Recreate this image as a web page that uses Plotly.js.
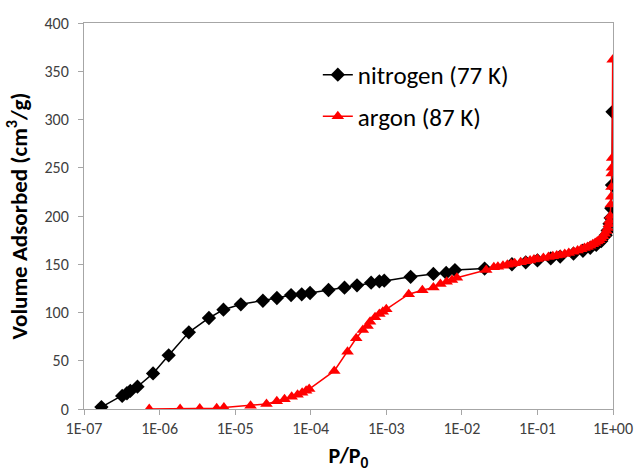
<!DOCTYPE html>
<html><head><meta charset="utf-8">
<script src="https://cdn.plot.ly/plotly-3.0.1.min.js"></script>
<style>html,body{margin:0;padding:0;background:#fff}#chart{width:636px;height:474px}</style>
</head><body><div id="chart"></div>
<script>
const n2P = [1.7e-7, 3.2e-7, 3.7e-7, 4.1e-7, 5.1e-7, 8.2e-7, 1.32e-6, 2.44e-6, 4.5e-6, 7.0e-6, 1.19e-5, 2.33e-5, 3.57e-5, 5.5e-5, 7.6e-5, 9.8e-5, 1.72e-4, 2.8e-4, 4.1e-4, 6.3e-4, 8.1e-4, 9.4e-4, 2.1e-3, 4.2e-3, 6.2e-3, 8.1e-3, 0.02, 0.046, 0.07, 0.1, 0.15, 0.2, 0.3, 0.4, 0.5, 0.6, 0.7, 0.8, 0.85, 0.9, 0.93, 0.95, 0.97, 0.985];
const n2V = [2, 13.5, 16.3, 18.7, 23.1, 36.9, 55.6, 79.5, 94.3, 102.9, 108.5, 112.2, 115, 118.1, 118.8, 120.2, 123.3, 125.7, 128.2, 130.9, 132.3, 133, 137, 140, 141, 144, 145.5, 150, 152, 154, 156, 158, 161, 164, 167, 170, 174, 180, 185, 192, 198, 208, 232, 308];
const arP = [7.3e-7, 1.87e-6, 3.4e-6, 5.7e-6, 7.1e-6, 1.6e-5, 2.6e-5, 3.56e-5, 4.5e-5, 5.6e-5, 6.7e-5, 7.7e-5, 8.7e-5, 9.55e-5, 2.05e-4, 3.07e-4, 4.0e-4, 4.9e-4, 5.65e-4, 6.1e-4, 7.1e-4, 8.1e-4, 9.0e-4, 1.0e-3, 1.98e-3, 3.0e-3, 4.2e-3, 5.2e-3, 6.3e-3, 7.4e-3, 8.6e-3, 0.021, 0.0265, 0.03, 0.035, 0.04, 0.045, 0.05, 0.06, 0.07, 0.08, 0.09, 0.1, 0.12, 0.14, 0.16, 0.18, 0.2, 0.23, 0.26, 0.3, 0.34, 0.38, 0.42, 0.46, 0.5, 0.54, 0.58, 0.62, 0.66, 0.7, 0.74, 0.78, 0.82, 0.85, 0.88, 0.9, 0.92, 0.935, 0.945, 0.955, 0.962, 0.968, 0.975, 0.99];
const arV = [0, 0, 0.5, 0.7, 1.5, 3.4, 5.2, 8, 10, 12.7, 14.8, 16.9, 19, 20.7, 39.4, 59.4, 73.3, 81.9, 86, 90.5, 95, 98.4, 100.8, 103.3, 119, 123, 126, 129.5, 131.9, 133.7, 136, 144, 146.8, 147.5, 148.5, 149.5, 150.3, 151, 152, 153, 154, 154.8, 155.5, 156.5, 157.5, 158.3, 159, 159.7, 160.7, 161.7, 163, 164.3, 165.5, 166.8, 168, 169.3, 170.7, 172, 173.5, 175, 177, 179, 181.5, 184.5, 187.5, 191.5, 195, 200, 212, 220, 230, 244, 250, 260, 362];
const xTickVals = [1e-7, 1e-6, 1e-5, 1e-4, 1e-3, 1e-2, 1e-1, 1];
const xTickText = ['1E-07', '1E-06', '1E-05', '1E-04', '1E-03', '1E-02', '1E-01', '1E+00'];
const seriesNames = ['nitrogen (77 K)', 'argon (87 K)'];

const FONT = 'Carlito, Lato, "Open Sans", sans-serif';
const traces = [
  {x: n2P, y: n2V, name: seriesNames[0], type: 'scatter', mode: 'lines+markers', legendgroup: 'a',
   line: {color: '#000000', width: 1.5}, marker: {symbol: 'diamond', size: 11, color: '#000000'}},
  {x: arP, y: arV, name: seriesNames[1], type: 'scatter', mode: 'lines+markers', legendgroup: 'b',
   line: {color: '#FF0000', width: 1.5}, marker: {symbol: 'triangle-up', size: 11, color: '#FF0000'}}
];
const axisLine = '#A6A6A6';
const layout = {
  width: 636, height: 474,
  margin: {l: 84, r: 23, t: 23, b: 65},
  paper_bgcolor: '#ffffff', plot_bgcolor: '#ffffff',
  font: {family: FONT, color: '#404040', size: 16},
  showlegend: true,
  legend: {x: 0.442, y: 0.925, xanchor: 'left', yanchor: 'top', bgcolor: 'rgba(0,0,0,0)',
           font: {family: FONT, size: 25, color: '#000000'}, traceorder: 'grouped', tracegroupgap: 6,
           itemwidth: 30},
  xaxis: {type: 'log', range: [-7, 0], tickvals: xTickVals, ticktext: xTickText,
          showgrid: false, zeroline: false, showline: true, linecolor: axisLine, linewidth: 1, mirror: true,
          ticks: 'outside', ticklen: 5, tickcolor: axisLine,
          tickfont: {family: FONT, size: 16, color: '#404040'},
          title: {text: 'P/P<sub>0</sub>', font: {family: FONT, size: 22, color: '#000000', weight: 'bold'}, standoff: 10}},
  yaxis: {range: [0, 400], dtick: 50, showgrid: false, zeroline: false, showline: true, linecolor: axisLine, linewidth: 1, mirror: true,
          ticks: 'outside', ticklen: 5, tickcolor: axisLine, ticklabelstandoff: 6,
          tickfont: {family: FONT, size: 16, color: '#404040'},
          title: {text: 'Volume Adsorbed (cm<sup>3</sup>/g)', font: {family: FONT, size: 23, color: '#000000', weight: 'bold'}, standoff: 10}}
};
Plotly.newPlot('chart', traces, layout, {displayModeBar: false, staticPlot: true});
</script></body></html>
